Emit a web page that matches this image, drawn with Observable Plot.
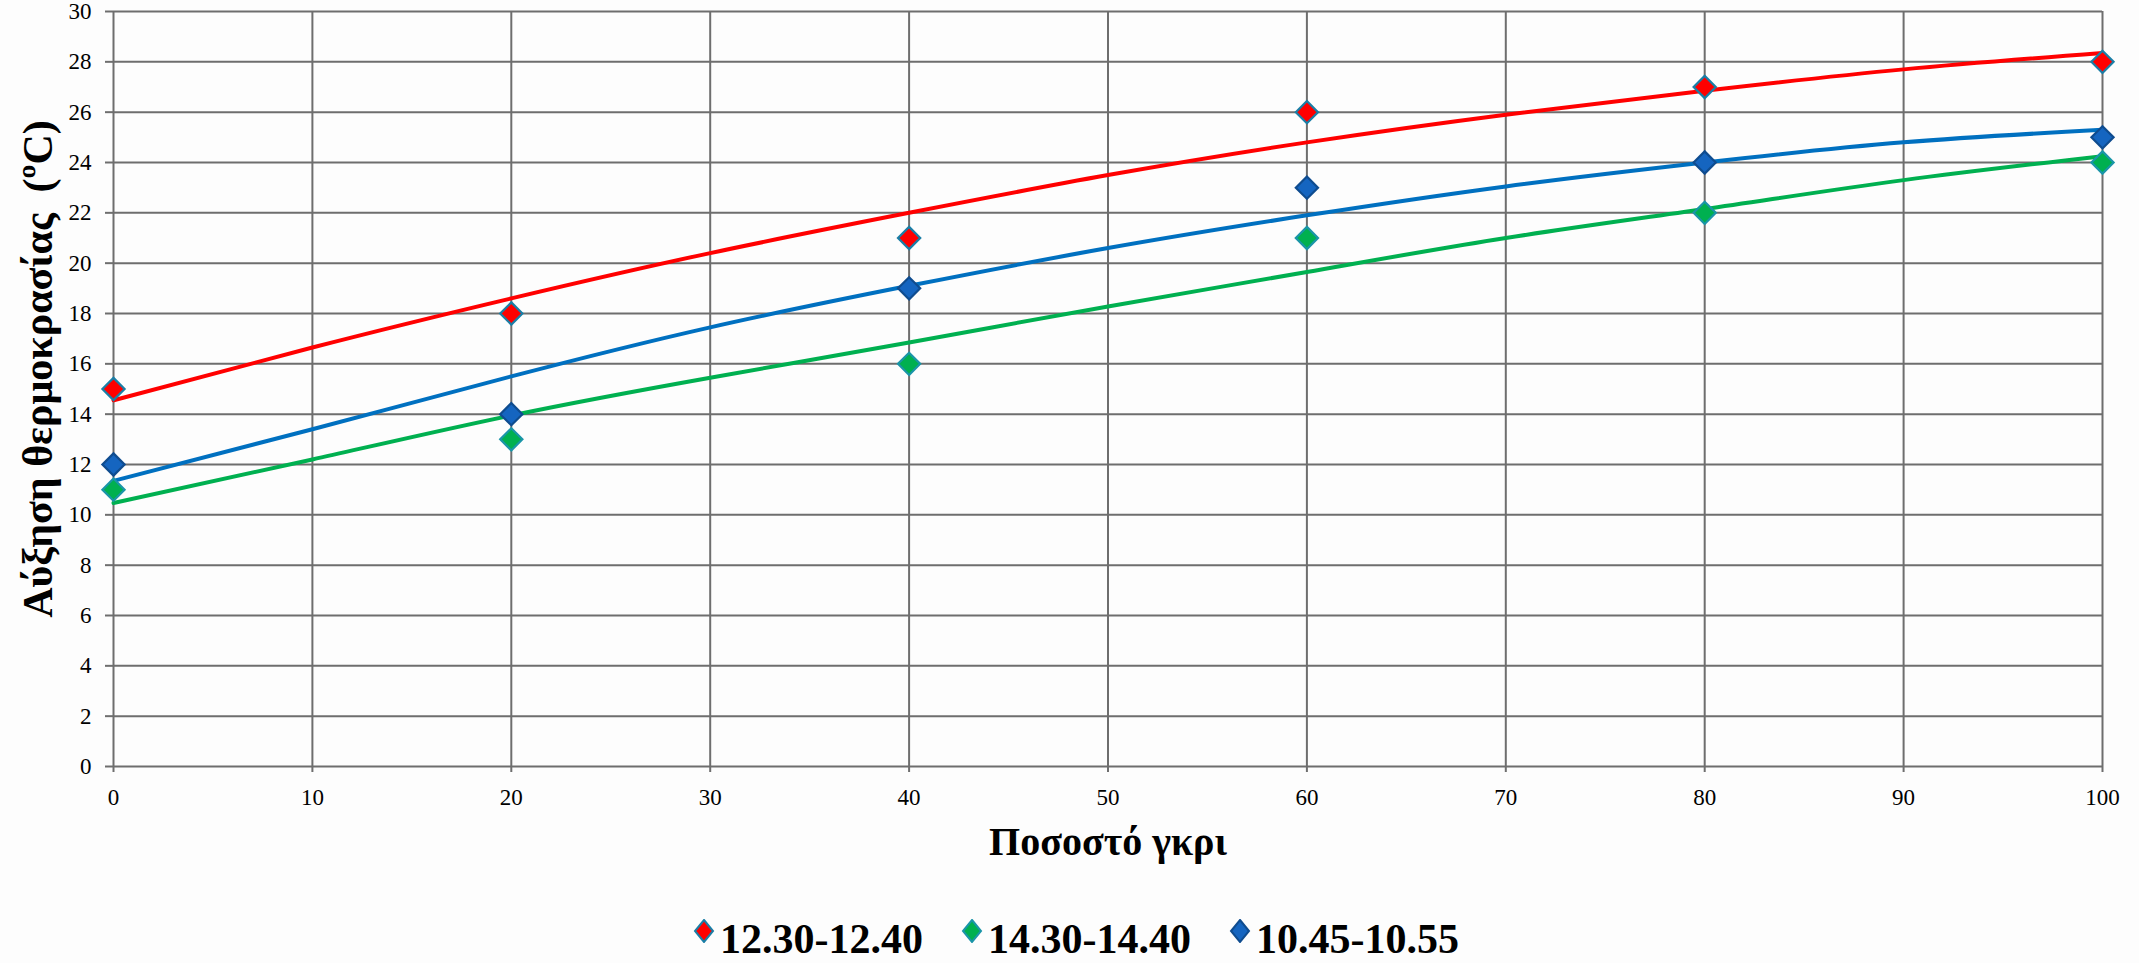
<!DOCTYPE html>
<html><head><meta charset="utf-8">
<script src="https://cdn.jsdelivr.net/npm/d3@7"></script>
<script src="https://cdn.jsdelivr.net/npm/@observablehq/plot@0.6"></script>
<style>
html,body{margin:0;padding:0;background:#fdfdfd;}
#chart svg{display:block;background:transparent;}
#legend{display:flex;align-items:center;margin-top:35px;padding-left:693px;font-family:"Liberation Serif",serif;font-weight:bold;font-size:42px;color:#000;}
#legend .item{display:flex;align-items:center;width:268px;}
#legend svg{margin-right:5px;position:relative;top:-8px;}
</style></head><body>
<div id="chart"></div>
<div id="legend"></div>
<script>
// Measured points
const xPct = [0, 20, 40, 60, 80, 100];
const seriesNames = ["12.30-12.40", "14.30-14.40", "10.45-10.55"];
const redVals = [15, 18, 21, 26, 27, 28];
const greenVals = [11, 13, 16, 21, 22, 24];
const blueVals = [12, 14, 19, 23, 24, 25];
// Trend lines
const trendX = [0, 10, 20, 30, 40, 50, 60, 70, 80, 90, 100];
const redTrend = [14.55, 16.65, 18.6, 20.4, 22.0, 23.5, 24.8, 25.9, 26.85, 27.7, 28.35];
const greenTrend = [10.47, 12.2, 13.95, 15.45, 16.85, 18.28, 19.65, 21.0, 22.15, 23.3, 24.25];
const blueTrend = [11.35, 13.4, 15.5, 17.45, 19.1, 20.6, 21.9, 23.05, 24.0, 24.8, 25.3];
const yTicks = d3.range(0, 31, 2);
const xTicks = d3.range(0, 101, 10);

const lineColors = ["#ff0000", "#00b050", "#0070c0"];
const dotFills = ["#ff0000", "#00b050", "#1565c0"];
const dotStrokes = ["#1a7ea6", "#1a95a8", "#0f4c8f"];

const valsBy = [redVals, greenVals, blueVals];
const trendBy = [redTrend, greenTrend, blueTrend];

const points = [];
valsBy.forEach((vals, s) => vals.forEach((v, i) => points.push({series: seriesNames[s], s, x: xPct[i], y: v})));
const trends = [];
trendBy.forEach((vals, s) => vals.forEach((v, i) => trends.push({series: seriesNames[s], s, x: trendX[i], y: v})));

const chart = Plot.plot({
  width: 2139,
  height: 880,
  marginTop: 11,
  marginBottom: 114,
  marginLeft: 113,
  marginRight: 37,
  style: {fontFamily: "'Liberation Serif', serif", fontSize: "23px", color: "#000", background: "transparent", overflow: "visible"},
  x: {domain: [0, 100], ticks: xTicks},
  y: {domain: [0, 30], ticks: yTicks},
  marks: [
    Plot.gridX(xTicks, {stroke: "#6e6e6e", strokeOpacity: 1, strokeWidth: 2}),
    Plot.gridY(yTicks, {stroke: "#6e6e6e", strokeOpacity: 1, strokeWidth: 2}),
    Plot.axisX({ticks: xTicks, tickSize: 6, tickPadding: 16, stroke: "#6e6e6e", strokeWidth: 2, label: null, fontSize: 23}),
    Plot.axisY({ticks: yTicks, tickSize: 8, tickPadding: 14, stroke: "#6e6e6e", strokeWidth: 2, label: null, fontSize: 23}),
    Plot.line(trends, {x: "x", y: "y", z: "series", stroke: d => lineColors[d.s], strokeWidth: 4, curve: "natural"}),
    Plot.dot(points, {x: "x", y: "y", symbol: "diamond2", r: 10, fill: d => dotFills[d.s], stroke: d => dotStrokes[d.s], strokeWidth: 2.2}),
    Plot.text(["Αύξηση θερμοκρασίας  (ºC)"], {frameAnchor: "left", textAnchor: "middle", lineAnchor: "middle", dx: -75, dy: -20, rotate: -90, fontSize: 42, fontWeight: "bold", fill: "#000"}),
    Plot.text(["Ποσοστό γκρι"], {frameAnchor: "bottom", textAnchor: "middle", lineAnchor: "middle", dy: 76, fontSize: 40, fontWeight: "bold", fill: "#000"})
  ]
});
document.getElementById("chart").appendChild(chart);

const legend = d3.select("#legend");
seriesNames.forEach((name, s) => {
  const item = legend.append("div").attr("class", "item");
  const svg = item.append("svg").attr("width", 22).attr("height", 24);
  svg.append("path").attr("d", "M11,1 L20,12 L11,23 L2,12 Z").attr("fill", dotFills[s]).attr("stroke", dotStrokes[s]).attr("stroke-width", 2);
  item.append("span").text(name);
});
</script>
</body></html>
